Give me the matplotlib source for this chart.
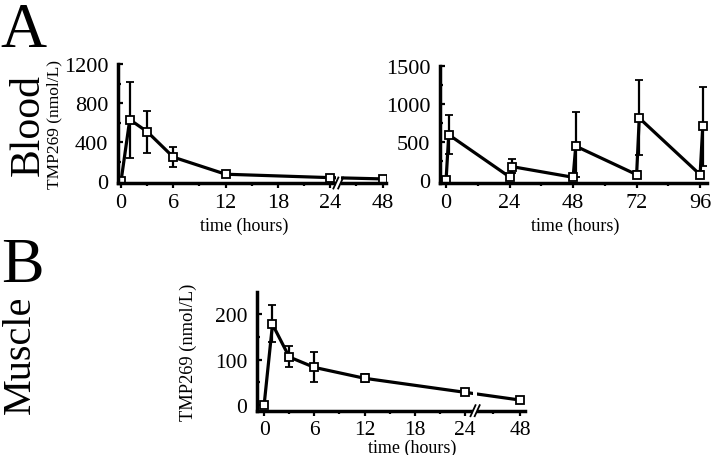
import numpy as np
import matplotlib
matplotlib.use("Agg")
import matplotlib.pyplot as plt

plt.rcParams['font.family'] = ['Liberation Serif', 'DejaVu Serif']

# ---------------- data ----------------
# Panel A left: blood, single dose (hours)
t_blood = [0, 1, 3, 6, 12, 24, 48]
blood = [0, 630, 506, 245, 70, 35, 22]
blood_err_up = [0, 385, 215, 100, 15, 10, 6]
blood_err_dn = [0, 395, 215, 100, 15, 10, 6]

# Panel A right: blood, repeated dosing (hours)
t_rep = [0, 1, 24, 25, 48, 49, 72, 73, 96, 97]
rep = [0, 595, 40, 175, 35, 445, 70, 815, 70, 710]
rep_err_up = [0, 255, 20, 105, 20, 445, 50, 495, 50, 520]
rep_err_dn = [0, 250, 20, 85, 20, 400, 50, 485, 50, 520]

# Panel B: muscle (hours)
t_muscle = [0, 1, 3, 6, 12, 24, 48]
muscle = [0, 178, 106, 83, 59, 28, 11]
muscle_err_up = [0, 42, 24, 34, 9, 3, 3]
muscle_err_dn = [0, 40, 23, 32, 9, 3, 3]

xt_single = [0, 6, 12, 18, 24, 48]
xt_single_minor = [3, 9, 15, 21, 36]
xt_rep = [0, 24, 48, 72, 96]
xt_rep_minor = [12, 36, 60, 84]
yt_A1 = [0, 400, 800, 1200]
yt_A1_minor = [200, 600, 1000]
yt_A2 = [0, 500, 1000, 1500]
yt_A2_minor = [250, 750, 1250]
yt_B = [0, 100, 200]
yt_B_minor = [50, 150]

W, H = 712, 456
fig = plt.figure(figsize=(W / 100, H / 100), dpi=100)


def make_funcs(k):
    def fwd(t):
        t = np.asarray(t, dtype=float)
        return np.where(t <= 24, t, 24 + (t - 24) * k)

    def inv(u):
        u = np.asarray(u, dtype=float)
        return np.where(u <= 24, u, 24 + (u - 24) / k)
    return fwd, inv


LW = 2.3
SPW = 2.5


def style(ax, fs_tick, xpad=4):
    for s in ('top', 'right'):
        ax.spines[s].set_visible(False)
    for s in ('left', 'bottom'):
        ax.spines[s].set_linewidth(SPW)
    ax.tick_params(axis='x', which='major', direction='out', length=3.5, width=1.6,
                   labelsize=fs_tick, pad=xpad)
    ax.tick_params(axis='x', which='minor', direction='out', length=2.5, width=1.6)
    ax.tick_params(axis='y', which='major', direction='in', length=3.5, width=1.6,
                   labelsize=fs_tick, pad=7)
    ax.tick_params(axis='y', which='minor', direction='in', length=2.5, width=1.6)


def draw(ax, t, y, up, dn):
    ax.errorbar(t, y, yerr=[dn, up], color='black', lw=LW, marker='s', ms=5.5,
                mfc='white', mec='black', mew=1.3, ecolor='black', elinewidth=1.6,
                capsize=2.6, capthick=1.8, zorder=2)


def add_break(ax, inv, u0, u1):
    x0, x1 = float(inv(u0)), float(inv(u1))
    band = ax.axvspan(x0, x1, ymin=-0.03, ymax=1.0, color='white', zorder=3, lw=0)
    band.set_clip_on(False)
    a0 = ax.transAxes.inverted().transform(ax.transData.transform((x0, 0)))[0]
    a1 = ax.transAxes.inverted().transform(ax.transData.transform((x1, 0)))[0]
    bb = ax.get_position()
    dx = 2.5 / (bb.width * W)
    dy = 5.5 / (bb.height * H)
    for a in (a0, a1):
        ax.plot([a - dx, a + dx], [-dy, dy], transform=ax.transAxes, color='black',
                lw=1.3, clip_on=False, zorder=4)


# ---------------- Panel A left ----------------
fA, iA = make_funcs(0.25)
axA1 = fig.add_axes([118 / W, 1 - 184 / H, 268 / W, 119 / H])
axA1.set_xscale('function', functions=(fA, iA))
draw(axA1, t_blood, blood, blood_err_up, blood_err_dn)
axA1.set_xlim(-0.35, float(iA(30.4)))
axA1.set_ylim(-20, 1200)
axA1.set_xticks(xt_single)
axA1.set_xticklabels([str(v) for v in xt_single])
axA1.set_xticks(xt_single_minor, minor=True)
axA1.set_yticks(yt_A1)
axA1.set_yticks(yt_A1_minor, minor=True)
style(axA1, 16)
axA1.set_xlabel('time (hours)', fontsize=13)
axA1.xaxis.set_label_coords(0.47, -0.28)
axA1.set_ylabel('TMP269 (nmol/L)', fontsize=12.5, labelpad=1)
add_break(axA1, iA, 24.65, 25.2)

# ---------------- Panel A right ----------------
axA2 = fig.add_axes([440 / W, 1 - 184 / H, 267 / W, 117 / H])
draw(axA2, t_rep, rep, rep_err_up, rep_err_dn)
axA2.set_xlim(-2.3, 98.6)
axA2.set_ylim(-40, 1500)
axA2.set_xticks(xt_rep)
axA2.set_xticks(xt_rep_minor, minor=True)
axA2.set_yticks(yt_A2)
axA2.set_yticks(yt_A2_minor, minor=True)
style(axA2, 16)
axA2.set_xlabel('time (hours)', fontsize=13)
axA2.xaxis.set_label_coords(0.506, -0.29)

# ---------------- Panel B ----------------
fB, iB = make_funcs(0.274)
axB = fig.add_axes([257 / W, 1 - 411.7 / H, 268 / W, 119 / H])
axB.set_xscale('function', functions=(fB, iB))
draw(axB, t_muscle, muscle, muscle_err_up, muscle_err_dn)
axB.set_xlim(-0.85, float(iB(31.16)))
axB.set_ylim(-12.5, 250)
axB.set_xticks(xt_single)
axB.set_xticklabels([str(v) for v in xt_single])
axB.set_xticks(xt_single_minor, minor=True)
axB.set_yticks(yt_B)
axB.set_yticks(yt_B_minor, minor=True)
style(axB, 15.5, xpad=3)
axB.set_xlabel('time (hours)', fontsize=13)
axB.xaxis.set_label_coords(0.578, -0.232)
axB.set_ylabel('TMP269 (nmol/L)', fontsize=13.3, labelpad=13)
add_break(axB, iB, 24.95, 25.45)

# ---------------- panel letters / tissue labels ----------------
fig.text(0 / W, 1 - 47 / H, 'A', fontsize=46, ha='left', va='baseline')
fig.text(1 / W, 1 - 282 / H, 'B', fontsize=46, ha='left', va='baseline')
fig.text(28 / W, 1 - 125 / H, 'Blood', fontsize=30, rotation=90, ha='center', va='center')
fig.text(20 / W, 1 - 355 / H, 'Muscle', fontsize=29, rotation=90, ha='center', va='center')

fig.savefig('out.png', dpi=100)
